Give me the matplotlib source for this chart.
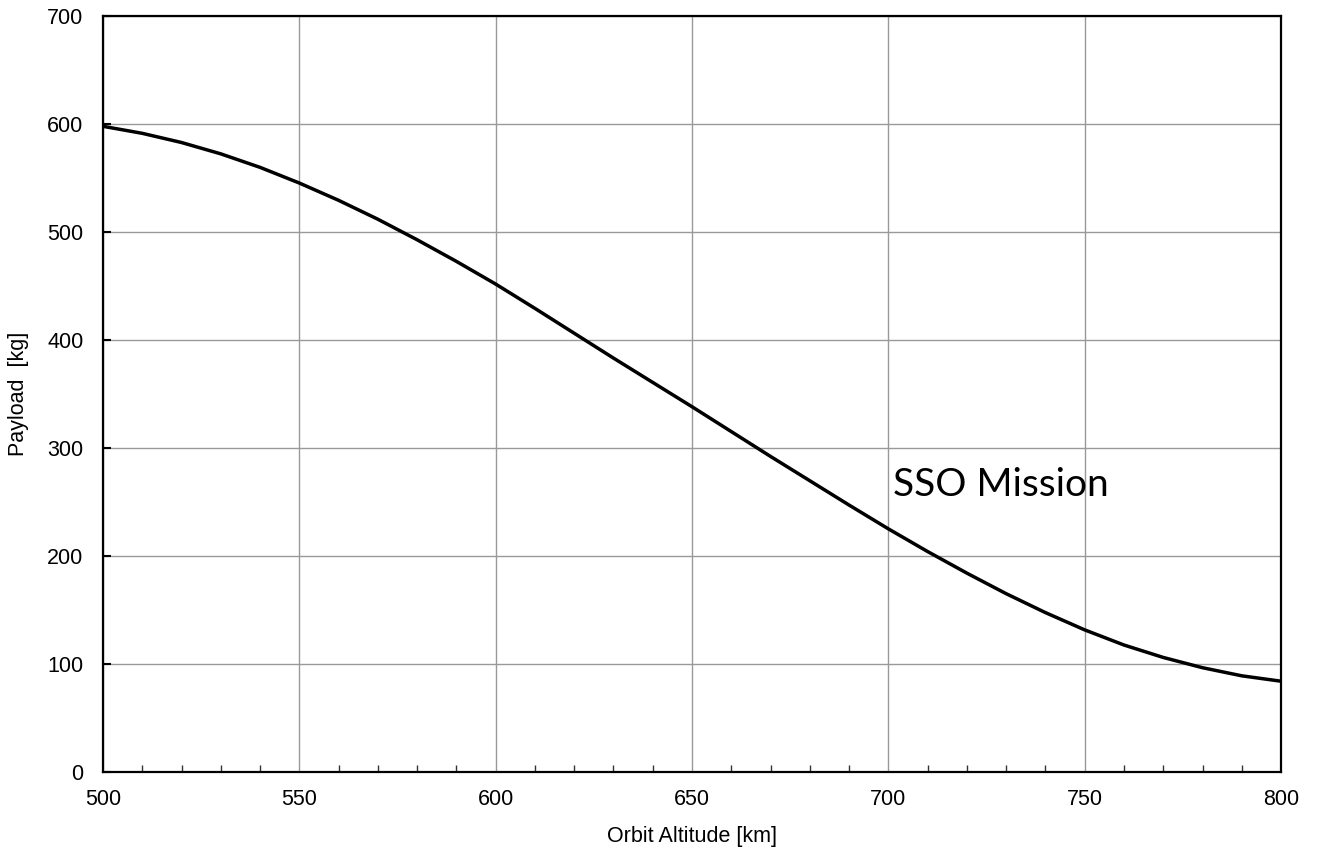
import matplotlib
matplotlib.use("Agg")
import matplotlib.pyplot as plt
from matplotlib.ticker import MultipleLocator

# values
altitude_km = [500, 510, 520, 530, 540, 550, 560, 570, 580, 590,
               600, 610, 620, 630, 640, 650, 660, 670, 680, 690,
               700, 710, 720, 730, 740, 750, 760, 770, 780, 790, 800]
payload_kg = [597.5, 591, 582.5, 572, 559.5, 545, 529, 511.5, 492.5, 472.5,
              451.5, 429, 406, 383, 360.5, 338, 315, 292, 269.5, 247,
              225, 204, 184, 165, 147.5, 131.5, 117.5, 106, 96.5, 89, 84]

xlabel = "Orbit Altitude [km]"
ylabel = "Payload  [kg]"
note = "SSO Mission"

plt.rcParams['font.family'] = ['Liberation Sans', 'DejaVu Sans']

fig = plt.figure(figsize=(13.17, 8.49), dpi=100)
ax = fig.add_axes([0.0782, 0.0907, 0.8945, 0.891])

ax.plot(altitude_km, payload_kg, color='black', lw=2.5, zorder=3)

ax.set_xlim(500, 800)
ax.set_ylim(0, 700)
ax.xaxis.set_major_locator(MultipleLocator(50))
ax.xaxis.set_minor_locator(MultipleLocator(10))
ax.yaxis.set_major_locator(MultipleLocator(100))

ax.grid(True, which='major', color='#999999', lw=1.0)
ax.set_axisbelow(True)

for sp in ax.spines.values():
    sp.set_linewidth(1.6)
    sp.set_color('black')

ax.tick_params(axis='x', which='major', direction='in', length=0, labelsize=15.5, pad=12)
ax.tick_params(axis='x', which='minor', direction='in', length=5, width=1, color='#333333')
ax.tick_params(axis='y', which='major', direction='in', length=6, width=1.5, labelsize=15.5, pad=14)

ax.set_xlabel(xlabel, fontsize=15.5, labelpad=12)
ax.set_ylabel(ylabel, fontsize=15.5, labelpad=13)

ax.text(701.2, 255, note, fontsize=28, family=['Lato', 'DejaVu Sans'], va='baseline', ha='left')

fig.savefig("out.png", dpi=100)
